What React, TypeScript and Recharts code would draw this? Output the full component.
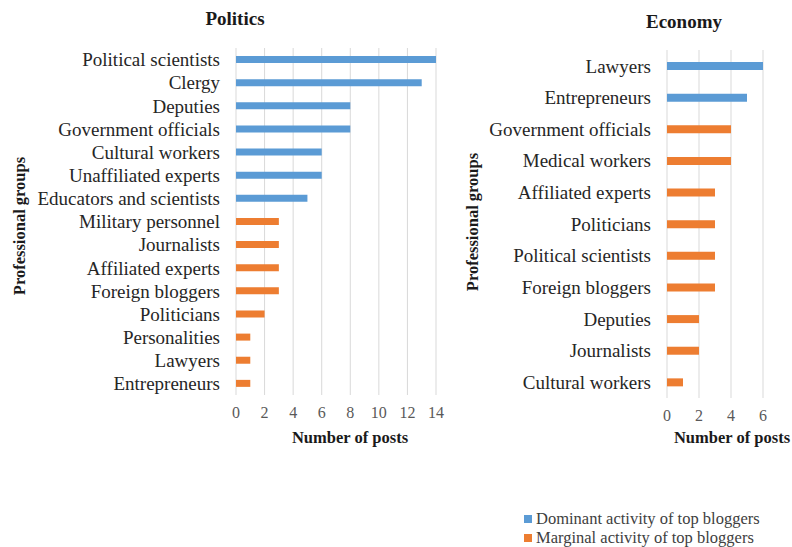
import React from "react";
import { BarChart, Bar, XAxis, YAxis, CartesianGrid } from "recharts";

// Politics panel
const politicsGroups = [
  "Political scientists",
  "Clergy",
  "Deputies",
  "Government officials",
  "Cultural workers",
  "Unaffiliated experts",
  "Educators and scientists",
  "Military personnel",
  "Journalists",
  "Affiliated experts",
  "Foreign bloggers",
  "Politicians",
  "Personalities",
  "Lawyers",
  "Entrepreneurs",
];
const politicsDominant = [14, 13, 8, 8, 6, 6, 5, null, null, null, null, null, null, null, null];
const politicsMarginal = [null, null, null, null, null, null, null, 3, 3, 3, 3, 2, 1, 1, 1];
const politicsTicks = [0, 2, 4, 6, 8, 10, 12, 14];

// Economy panel
const economyGroups = [
  "Lawyers",
  "Entrepreneurs",
  "Government officials",
  "Medical workers",
  "Affiliated experts",
  "Politicians",
  "Political scientists",
  "Foreign bloggers",
  "Deputies",
  "Journalists",
  "Cultural workers",
];
const economyDominant = [6, 5, null, null, null, null, null, null, null, null, null];
const economyMarginal = [null, null, 4, 4, 3, 3, 3, 3, 2, 2, 1];
const economyTicks = [0, 2, 4, 6];

const seriesNames = ["Dominant activity of top bloggers", "Marginal activity of top bloggers"];

const BLUE = "#5B9BD5";
const ORANGE = "#ED7D31";
const COLORS = [BLUE, ORANGE];
const FONT = "'Liberation Serif', 'Times New Roman', serif";

const buildRows = (groups: string[], dom: (number | null)[], mar: (number | null)[]) =>
  groups.map((g, i) => ({ group: g, dominant: dom[i], marginal: mar[i] }));

const text = (style: React.CSSProperties): React.CSSProperties => ({
  position: "absolute",
  fontFamily: FONT,
  fontWeight: "bold",
  color: "#1a1a1a",
  whiteSpace: "nowrap",
  ...style,
});

const catTick = { fill: "#262626", fontSize: 19, fontFamily: FONT };
const numTick = { fill: "#595959", fontSize: 16, fontFamily: FONT };

export default function App() {
  const politics = buildRows(politicsGroups, politicsDominant, politicsMarginal);
  const economy = buildRows(economyGroups, economyDominant, economyMarginal);

  return (
    <div
      style={{
        position: "absolute",
        left: 0,
        top: 0,
        width: 792,
        height: 547,
        background: "#fff",
        fontFamily: FONT,
        overflow: "hidden",
      }}
    >
      <div style={text({ left: 235, top: 19, fontSize: 19, transform: "translate(-50%, -50%)" })}>
        Politics
      </div>
      <div style={text({ left: 684, top: 22, fontSize: 19, transform: "translate(-50%, -50%)" })}>
        Economy
      </div>
      <div style={text({ left: 350, top: 438, fontSize: 16.5, transform: "translate(-50%, -50%)" })}>
        Number of posts
      </div>
      <div style={text({ left: 732, top: 438, fontSize: 16.5, transform: "translate(-50%, -50%)" })}>
        Number of posts
      </div>
      <div
        style={text({
          left: 20,
          top: 226,
          fontSize: 16.5,
          transform: "translate(-50%, -50%) rotate(-90deg)",
        })}
      >
        Professional groups
      </div>
      <div
        style={text({
          left: 473,
          top: 222,
          fontSize: 16.5,
          transform: "translate(-50%, -50%) rotate(-90deg)",
        })}
      >
        Professional groups
      </div>

      <div style={{ position: "absolute", left: 0, top: 0 }}>
        <BarChart
          width={450}
          height={450}
          data={politics}
          layout="vertical"
          margin={{ top: 48, right: 14, bottom: 25, left: 0 }}
        >
          <CartesianGrid horizontal={false} stroke="#d9d9d9" />
          <XAxis
            type="number"
            domain={[0, 14]}
            ticks={politicsTicks}
            axisLine={false}
            tickLine={false}
            height={30}
            tickMargin={6}
            tick={numTick}
          />
          <YAxis
            type="category"
            dataKey="group"
            width={236}
            axisLine={false}
            tickLine={false}
            tickMargin={10}
            interval={0}
            tick={catTick}
          />
          <Bar dataKey="dominant" stackId="s" fill={BLUE} barSize={7} isAnimationActive={false} />
          <Bar dataKey="marginal" stackId="s" fill={ORANGE} barSize={7} isAnimationActive={false} />
        </BarChart>
      </div>

      <div style={{ position: "absolute", left: 460, top: 0 }}>
        <BarChart
          width={332}
          height={450}
          data={economy}
          layout="vertical"
          margin={{ top: 50, right: 29, bottom: 22, left: 0 }}
        >
          <CartesianGrid horizontal={false} stroke="#d9d9d9" />
          <XAxis
            type="number"
            domain={[0, 6]}
            ticks={economyTicks}
            axisLine={false}
            tickLine={false}
            height={30}
            tickMargin={6}
            tick={numTick}
          />
          <YAxis
            type="category"
            dataKey="group"
            width={207}
            axisLine={false}
            tickLine={false}
            tickMargin={10}
            interval={0}
            tick={catTick}
          />
          <Bar dataKey="dominant" stackId="s" fill={BLUE} barSize={8} isAnimationActive={false} />
          <Bar dataKey="marginal" stackId="s" fill={ORANGE} barSize={8} isAnimationActive={false} />
        </BarChart>
      </div>

      <div style={{ position: "absolute", left: 524, top: 509 }}>
        {seriesNames.map((name, i) => (
          <div
            key={name}
            style={{
              display: "flex",
              alignItems: "center",
              height: 19,
              fontSize: 16.5,
              color: "#404040",
              fontFamily: FONT,
            }}
          >
            <span
              style={{
                display: "inline-block",
                width: 8,
                height: 8,
                background: COLORS[i],
                marginRight: 4,
              }}
            />
            {name}
          </div>
        ))}
      </div>
    </div>
  );
}
